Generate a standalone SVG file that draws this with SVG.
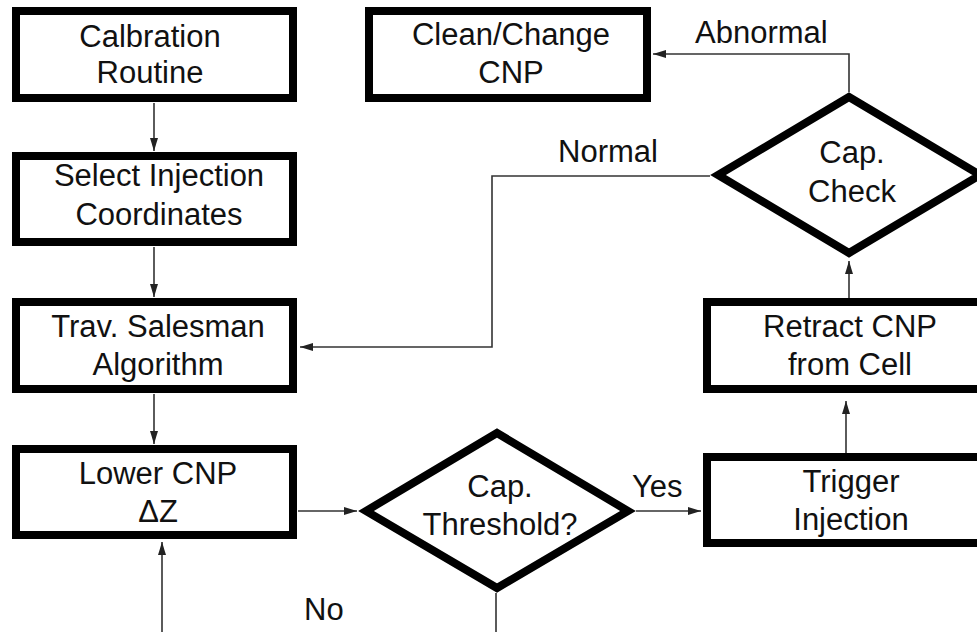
<svg xmlns="http://www.w3.org/2000/svg" width="977" height="632" viewBox="0 0 977 632">
<style>
.box{fill:#fff;stroke:#000;stroke-width:8;stroke-linejoin:miter}
.t{font-family:"Liberation Sans",Arial,Helvetica,sans-serif;font-size:31px;fill:#111}
.m{text-anchor:middle}
.c{fill:none;stroke:#333;stroke-width:1.6}
</style>
<defs>
<marker id="ah" markerUnits="userSpaceOnUse" markerWidth="13" markerHeight="8" refX="13" refY="4" orient="auto">
<path d="M0,0 L13,4 L0,8 z" fill="#222"/>
</marker>
</defs>
<rect width="977" height="632" fill="#fff"/>
<g id="connectors">
<path class="c" d="M154,103 V151" marker-end="url(#ah)"/>
<path class="c" d="M154,247 V297" marker-end="url(#ah)"/>
<path class="c" d="M154,394 V444" marker-end="url(#ah)"/>
<path class="c" d="M298,511 H357" marker-end="url(#ah)"/>
<path class="c" d="M636,511 H701" marker-end="url(#ah)"/>
<path class="c" d="M846,453 V401" marker-end="url(#ah)"/>
<path class="c" d="M849,298 V261" marker-end="url(#ah)"/>
<path class="c" d="M849,92 V54 H653" marker-end="url(#ah)"/>
<path class="c" d="M710,176 H492 V347 H300" marker-end="url(#ah)"/>
<path class="c" d="M496,593 V660 H162 V542" marker-end="url(#ah)"/>
</g>
<g id="calibration">
<rect class="box" x="16" y="11" width="277" height="87"/>
<text class="t m" x="150" y="47">Calbration</text>
<text class="t m" x="150" y="83">Routine</text>
</g>
<g id="select">
<rect class="box" x="16" y="156" width="277" height="86"/>
<text class="t m" x="159" y="186">Select Injection</text>
<text class="t m" x="159" y="225">Coordinates</text>
</g>
<g id="salesman">
<rect class="box" x="16" y="302" width="277" height="87"/>
<text class="t m" x="158" y="337">Trav. Salesman</text>
<text class="t m" x="158" y="375">Algorithm</text>
</g>
<g id="lower">
<rect class="box" x="16" y="449" width="277" height="86"/>
<text class="t m" x="158" y="484">Lower CNP</text>
<text class="t m" x="158" y="522">ΔZ</text>
</g>
<g id="clean">
<rect class="box" x="369" y="11" width="278" height="87"/>
<text class="t m" x="511" y="45">Clean/Change</text>
<text class="t m" x="511" y="83">CNP</text>
</g>
<g id="capcheck">
<polygon class="box" points="849,97 980,175 849,253 718,175"/>
<text class="t m" x="852" y="163">Cap.</text>
<text class="t m" x="852" y="202">Check</text>
</g>
<g id="retract">
<rect class="box" x="707" y="302" width="286" height="87"/>
<text class="t m" x="850" y="337">Retract CNP</text>
<text class="t m" x="850" y="375">from Cell</text>
</g>
<g id="trigger">
<rect class="box" x="707" y="457" width="286" height="86"/>
<text class="t m" x="851" y="492">Trigger</text>
<text class="t m" x="851" y="530">Injection</text>
</g>
<g id="threshold">
<polygon class="box" points="497,433 628,511 497,588 366,511"/>
<text class="t m" x="500" y="497">Cap.</text>
<text class="t m" x="500" y="535">Threshold?</text>
</g>
<g id="labels">
<text class="t" x="695" y="43">Abnormal</text>
<text class="t" x="558" y="162">Normal</text>
<text class="t" x="632" y="497">Yes</text>
<text class="t" x="304" y="620">No</text>
</g>
</svg>
